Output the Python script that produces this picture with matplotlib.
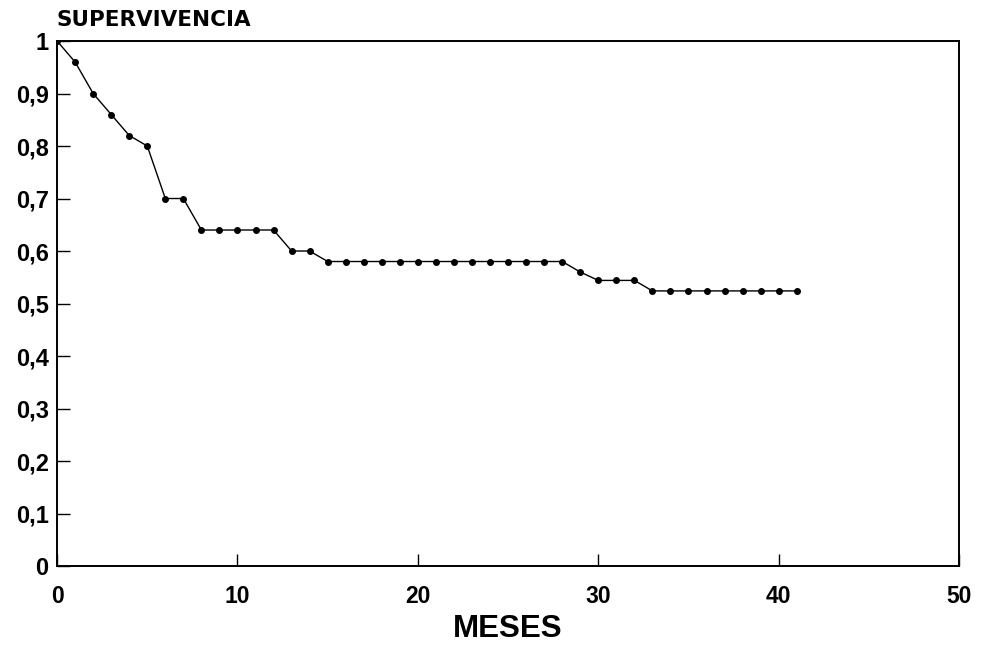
import numpy as np
import matplotlib.pyplot as plt

# months and survival proportion
meses = list(range(0, 42))
supervivencia = [1.00, 0.96, 0.90, 0.86, 0.82, 0.80, 0.70, 0.70,
                 0.64, 0.64, 0.64, 0.64, 0.64,
                 0.60, 0.60,
                 0.58, 0.58, 0.58, 0.58, 0.58, 0.58, 0.58,
                 0.58, 0.58, 0.58, 0.58, 0.58, 0.58, 0.58,
                 0.56,
                 0.544, 0.544, 0.544,
                 0.524, 0.524, 0.524, 0.524, 0.524, 0.524, 0.524, 0.524, 0.524]
yticks = [0, 0.1, 0.2, 0.3, 0.4, 0.5, 0.6, 0.7, 0.8, 0.9, 1.0]
ytick_labels = ['0', '0,1', '0,2', '0,3', '0,4', '0,5', '0,6', '0,7', '0,8', '0,9', '1']
xticks = [0, 10, 20, 30, 40, 50]

plt.rcParams['font.family'] = ['Liberation Sans', 'DejaVu Sans']

fig = plt.figure(figsize=(9.84, 6.5), dpi=100)
ax = fig.add_axes([0.058, 0.1292, 0.9167, 0.8077])

ax.plot(meses, supervivencia, color='black', lw=1.0, marker='o', ms=4,
        markerfacecolor='black', markeredgecolor='black')

ax.set_xlim(0, 50)
ax.set_ylim(0, 1)
ax.set_xticks(xticks)
ax.set_xticklabels([str(t) for t in xticks], fontsize=16.5, fontweight='bold')
ax.set_yticks(yticks)
ax.set_yticklabels(ytick_labels, fontsize=17, fontweight='bold')
ax.tick_params(direction='in', length=9, width=1, top=False, right=False)
ax.tick_params(axis='x', pad=14)
ax.tick_params(axis='y', pad=6)

for s in ax.spines.values():
    s.set_linewidth(1.4)

ax.set_xlabel('MESES', fontsize=22.5, fontweight='bold', labelpad=4)
fig.text(57 / 984, 1 - 26 / 650, 'SUPERVIVENCIA', fontsize=15.5,
         fontweight='bold', ha='left', va='baseline', family='DejaVu Sans')

fig.savefig('out.png', dpi=100)
